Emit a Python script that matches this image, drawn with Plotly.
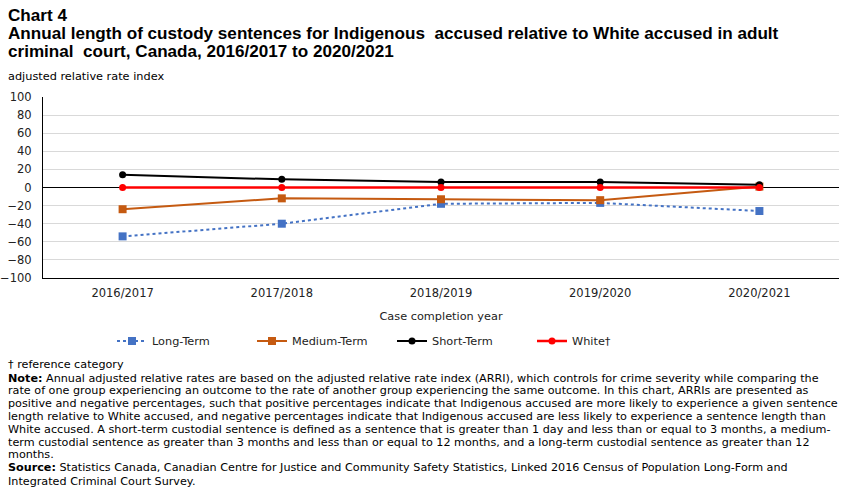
import plotly.graph_objects as go

years = ["2016/2017", "2017/2018", "2018/2019", "2019/2020", "2020/2021"]
long_term = [-54, -40, -18, -17, -26]
medium_term = [-24, -12, -13, -14, 1]
short_term = [14, 9, 6, 6, 3]
white = [0, 0, 0, 0, 0]

FONT = "DejaVu Sans, Verdana, sans-serif"
TFONT = "Liberation Sans, Arial, sans-serif"

fig = go.Figure()
fig.add_trace(go.Scatter(x=years, y=long_term, name="Long-Term", mode="lines+markers",
                         line=dict(color="#4472C4", width=2, dash="dot"),
                         marker=dict(symbol="square", size=8, color="#4472C4")))
fig.add_trace(go.Scatter(x=years, y=medium_term, name="Medium-Term", mode="lines+markers",
                         line=dict(color="#C55A11", width=2),
                         marker=dict(symbol="square", size=8, color="#C55A11")))
fig.add_trace(go.Scatter(x=years, y=short_term, name="Short-Term", mode="lines+markers",
                         line=dict(color="#000000", width=2),
                         marker=dict(symbol="circle", size=7, color="#000000")))
fig.add_trace(go.Scatter(x=years, y=white, name="White†", mode="lines+markers",
                         line=dict(color="#FF0000", width=2.5),
                         marker=dict(symbol="circle", size=7, color="#FF0000")))

W, H = 850, 492
L, R, T, B = 43, 11, 97, 214
ph = H - T - B

def py(px):
    return (H - B - px) / ph

fig.update_layout(
    width=W, height=H,
    margin=dict(l=L, r=R, t=T, b=B, autoexpand=False),
    paper_bgcolor="white", plot_bgcolor="white",
    font=dict(family=FONT, size=11, color="#222222"),
    showlegend=True,
    legend=dict(orientation="h", x=(112 - L) / (W - L - R), xanchor="left",
                y=py(341), yanchor="middle", entrywidth=95,
                font=dict(family=FONT, size=11.3, color="#222222"),
                bgcolor="rgba(0,0,0,0)"),
    xaxis=dict(showgrid=False, showline=True, linecolor="black", linewidth=1,
               ticks="", tickfont=dict(size=11.5), mirror=False, range=[-0.5, 4.5],
               automargin=False, ticklabelstandoff=4,
               title=dict(text="Case completion year", font=dict(size=11.3), standoff=13)),
    yaxis=dict(range=[-100, 100], dtick=20, showgrid=True, gridcolor="#d9d9d9",
               zeroline=True, zerolinecolor="black", zerolinewidth=1,
               showline=True, linecolor="black", linewidth=1, ticks="",
               automargin=False, ticklabelstandoff=8, tickfont=dict(size=11.5)),
)

def ann(text, x, y, size=11, family=FONT, bold=False):
    fig.add_annotation(text=f"<b>{text}</b>" if bold else text, xref="paper", yref="paper",
                       x=(x - L) / (W - L - R), y=py(y), xanchor="left", yanchor="middle",
                       showarrow=False, font=dict(family=family, size=size, color="#000000"),
                       align="left")

ann("Chart 4", 6, 15, size=17.1, family=TFONT, bold=True)
ann("Annual length of custody sentences for Indigenous  accused relative to White accused in adult", 6, 33, size=17.1, family=TFONT, bold=True)
ann("criminal  court, Canada, 2016/2017 to 2020/2021", 6, 51, size=17.1, family=TFONT, bold=True)
ann("adjusted relative rate index", 6, 76, size=11.3)

notes = [
    "† reference category",
    "<b>Note:</b> Annual adjusted relative rates are based on the adjusted relative rate index (ARRI), which controls for crime severity while comparing the",
    "rate of one group experiencing an outcome to the rate of another group experiencing the same outcome. In this chart, ARRIs are presented as",
    "positive and negative percentages, such that positive percentages indicate that Indigenous accused are more likely to experience a given sentence",
    "length relative to White accused, and negative percentages indicate that Indigenous accused are less likely to experience a sentence length than",
    "White accused. A short-term custodial sentence is defined as a sentence that is greater than 1 day and less than or equal to 3 months, a medium-",
    "term custodial sentence as greater than 3 months and less than or equal to 12 months, and a long-term custodial sentence as greater than 12",
    "months.",
    "<b>Source:</b> Statistics Canada, Canadian Centre for Justice and Community Safety Statistics, Linked 2016 Census of Population Long-Form and",
    "Integrated Criminal Court Survey.",
]
ys = [364, 378, 390.5, 403.5, 416.5, 429, 442, 454.5, 467.5, 481]
for t, yy in zip(notes, ys):
    ann(t, 6, yy, size=11.2)

fig.write_html("out.html")
